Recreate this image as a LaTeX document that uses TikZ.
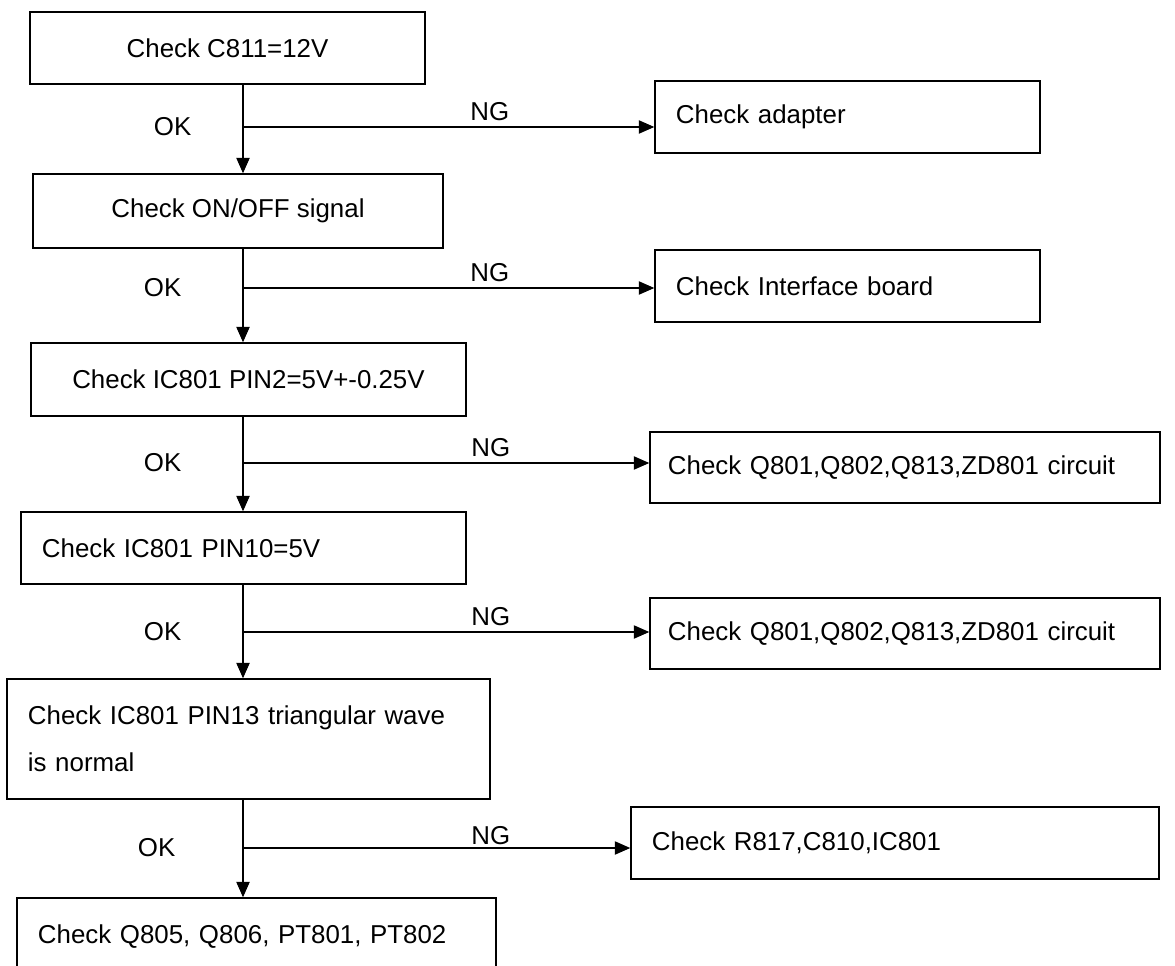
\documentclass[tikz,border=0pt]{standalone}
\usepackage{fontspec}
\setmainfont{Liberation Sans}
\usepackage{tikz}
\usetikzlibrary{arrows.meta,positioning}

\begin{document}
\begin{tikzpicture}[x=0.025cm,y=-0.025cm,
    font=\fontsize{18.4}{33.4}\selectfont,
    >={Triangle[length=11pt,width=9.5pt]},
    stepbox/.style={draw,line width=1pt,minimum height=1.8cm,inner sep=0pt},
    leftbox/.style={stepbox,align=left,inner xsep=0.525cm},
    flow/.style={->,line width=0.8pt},
    tag/.style={inner sep=1pt}]
  \useasboundingbox (0,0) rectangle (1175,965);
  \coordinate (spine) at (243,0);
  \node[stepbox,minimum width=9.875cm] (c811) at (227.5,48) {Check C811=12V};
  \node[leftbox,text width=8.575cm] (adapter) at (847.5,117) {Check adapter};
  \node[stepbox,minimum width=10.25cm,minimum height=1.85cm] (onoff) at (238,211) {Check ON/OFF signal};
  \node[leftbox,text width=8.575cm] (iface) at (847.5,286) {Check Interface board};
  \node[stepbox,minimum width=10.875cm,minimum height=1.825cm] (pin2) at (248.5,379.5) {Check IC801 PIN2=5V+-0.25V};
  \node[leftbox,inner xsep=0.45cm,text width=11.85cm,minimum height=1.775cm] (qa) at (905,467.5) {Check Q801,Q802,Q813,ZD801 circuit};
  \node[leftbox,text width=10.075cm] (pin10) at (243.5,548) {Check IC801 PIN10=5V};
  \node[leftbox,inner xsep=0.45cm,text width=11.85cm,minimum height=1.775cm] (qb) at (905,633.5) {Check Q801,Q802,Q813,ZD801 circuit};
  \node[leftbox,text width=11.025cm,minimum height=3cm] (pin13) at (248.5,739) {Check IC801 PIN13 triangular wave\\is normal};
  \node[leftbox,text width=12.15cm] (r817) at (895,843) {Check R817,C810,IC801};
  \node[leftbox,text width=10.925cm,minimum height=1.925cm] (final) at (256.5,936.5) {Check Q805, Q806, PT801, PT802};

  \coordinate (j1) at (243,127);
  \coordinate (j2) at (243,288);
  \coordinate (j3) at (243,463);
  \coordinate (j4) at (243,632);
  \coordinate (j5) at (243,848);

  \draw[flow] (c811.south -| spine) -- (onoff.north -| spine);
  \draw[flow] (onoff.south -| spine) -- (pin2.north -| spine);
  \draw[flow] (pin2.south -| spine) -- (pin10.north -| spine);
  \draw[flow] (pin10.south -| spine) -- (pin13.north -| spine);
  \draw[flow] (pin13.south -| spine) -- (final.north -| spine);

  \draw[flow] (j1) -- (adapter.west |- j1) node[tag,pos=0.6,above=3pt] {NG};
  \draw[flow] (j2) -- (iface.west |- j2) node[tag,pos=0.6,above=3pt] {NG};
  \draw[flow] (j3) -- (qa.west |- j3) node[tag,pos=0.61,above=3pt] {NG};
  \draw[flow] (j4) -- (qb.west |- j4) node[tag,pos=0.61,above=3pt] {NG};
  \draw[flow] (j5) -- (r817.west |- j5) node[tag,pos=0.64,above=1pt] {NG};

  \node[tag,left=1.25cm of j1] (ok1) {OK};
  \node[tag,left=1.5cm of j2] (ok2) {OK};
  \node[tag,left=1.5cm of j3] (ok3) {OK};
  \node[tag,left=1.5cm of j4] (ok4) {OK};
  \node[tag,left=1.65cm of j5] (ok5) {OK};
\end{tikzpicture}
\end{document}
